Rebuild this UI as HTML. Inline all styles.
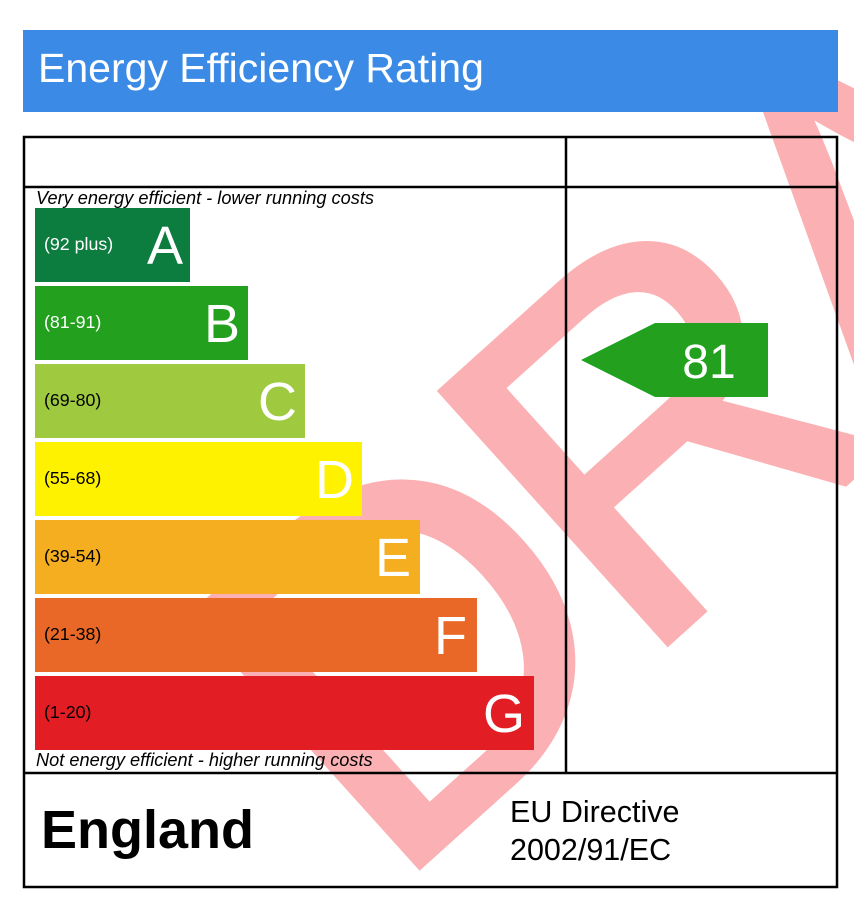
<!DOCTYPE html>
<html><head><style>
html,body{margin:0;background:#fff;width:854px;height:902px;overflow:hidden;font-family:"Liberation Sans",Arial,sans-serif}
svg{display:block;overflow:hidden}
</style></head><body>
<svg width="854" height="902" xmlns="http://www.w3.org/2000/svg" font-family="Liberation Sans, Arial, sans-serif">
<text transform="translate(390,892) rotate(-42)" font-size="490" fill="#fbb1b3" stroke="#fbb1b3" stroke-width="8" letter-spacing="-20">DRAFT</text>
<rect x="0" y="0" width="854" height="30" fill="#fff"/>
<rect x="23" y="30" width="815" height="82" fill="#3a8ae6"/>
<text x="38" y="82" font-size="41" fill="#fff">Energy Efficiency Rating</text>
<rect x="35" y="208" width="155" height="74" fill="#0c7c3f"/>
<rect x="35" y="286" width="213" height="74" fill="#22a01e"/>
<rect x="35" y="364" width="270" height="74" fill="#9fc93f"/>
<rect x="35" y="442" width="327" height="74" fill="#fff200"/>
<rect x="35" y="520" width="385" height="74" fill="#f4ae20"/>
<rect x="35" y="598" width="442" height="74" fill="#e96827"/>
<rect x="35" y="676" width="499" height="74" fill="#e21d24"/>
<g font-size="17.8">
<text x="44" y="250" fill="#fff">(92 plus)</text>
<text x="44" y="328" fill="#fff">(81-91)</text>
<text x="44" y="406">(69-80)</text>
<text x="44" y="484">(55-68)</text>
<text x="44" y="562">(39-54)</text>
<text x="44" y="640">(21-38)</text>
<text x="44" y="718">(1-20)</text>
</g>
<g font-size="54" fill="#fff" text-anchor="end">
<text x="183" y="264">A</text>
<text x="240" y="342">B</text>
<text x="297" y="420">C</text>
<text x="354" y="498">D</text>
<text x="411" y="576">E</text>
<text x="467" y="654">F</text>
<text x="525" y="732">G</text>
</g>
<text x="36" y="204" font-size="18.2" font-style="italic">Very energy efficient - lower running costs</text>
<text x="36" y="766" font-size="18.2" font-style="italic">Not energy efficient - higher running costs</text>
<polygon points="581,360 655,323 768,323 768,397 655,397" fill="#22a01e"/>
<text x="709" y="378" font-size="48" fill="#fff" text-anchor="middle">81</text>
<g stroke="#000" stroke-width="2.5" fill="none">
<rect x="24" y="137" width="813" height="750"/>
<line x1="566" y1="137" x2="566" y2="773"/>
<line x1="24" y1="187" x2="837" y2="187"/>
<line x1="24" y1="773" x2="837" y2="773"/>
</g>
<text x="41" y="848" font-size="54" font-weight="bold">England</text>
<text x="510" y="822" font-size="30.5">EU Directive</text>
<text x="510" y="860" font-size="30.5">2002/91/EC</text>
</svg>
</body></html>
